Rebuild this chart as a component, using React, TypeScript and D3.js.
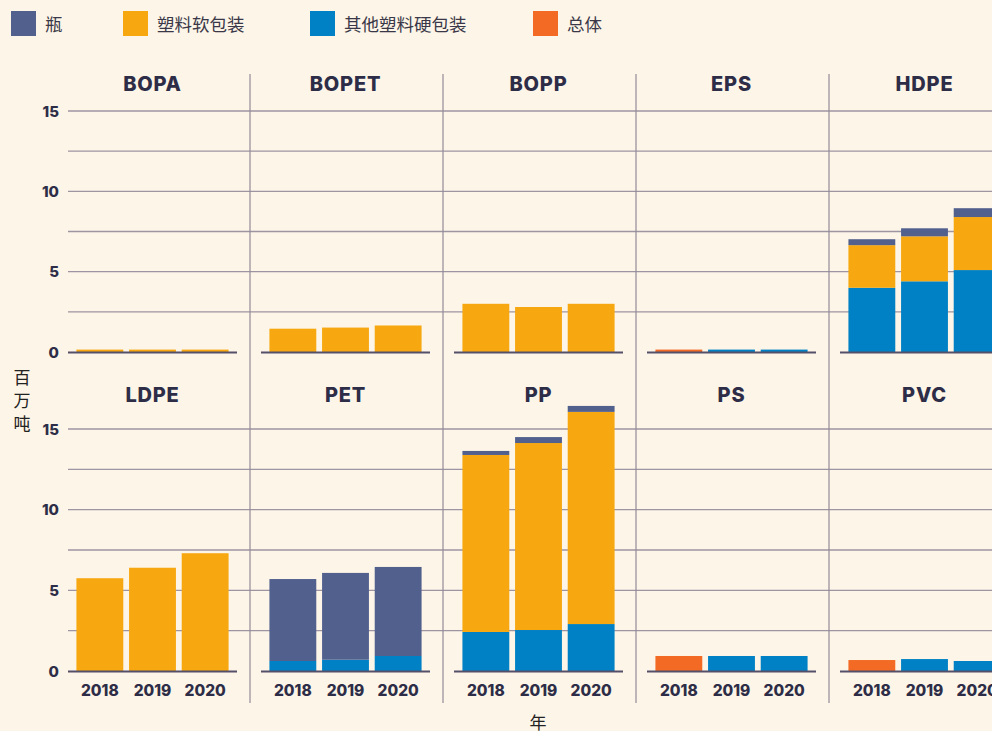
import React from "react";
import * as d3 from "d3";

const materials = ["BOPA", "BOPET", "BOPP", "EPS", "HDPE", "LDPE", "PET", "PP", "PS", "PVC"];
const years = ["2018", "2019", "2020"];
const seriesKeys = ["rigid", "flexible", "bottle", "total"];
const seriesNames: Record<string, string> = { bottle: "瓶", flexible: "塑料软包装", rigid: "其他塑料硬包装", total: "总体" };
const legendOrder = ["bottle", "flexible", "rigid", "total"];
const colors: Record<string, string> = { bottle: "#52608e", flexible: "#f7a70f", rigid: "#0081c6", total: "#f26a23" };

// values in million tonnes, per material, per year
const rigid = [[0, 0, 0], [0, 0, 0], [0, 0, 0], [0, 0.15, 0.15], [4.0, 4.4, 5.1], [0, 0, 0], [0.62, 0.7, 0.93], [2.42, 2.54, 2.91], [0, 0.93, 0.93], [0, 0.74, 0.62]];
const flexible = [[0.15, 0.15, 0.15], [1.45, 1.52, 1.65], [3.0, 2.8, 3.0], [0, 0, 0], [2.65, 2.8, 3.3], [5.75, 6.4, 7.3], [0, 0, 0], [10.97, 11.59, 13.15], [0, 0, 0], [0, 0, 0]];
const bottle = [[0, 0, 0], [0, 0, 0], [0, 0, 0], [0, 0, 0], [0.37, 0.5, 0.55], [0, 0, 0], [5.08, 5.38, 5.52], [0.25, 0.37, 0.37], [0, 0, 0], [0, 0, 0]];
const total = [[0, 0, 0], [0, 0, 0], [0, 0, 0], [0.15, 0, 0], [0, 0, 0], [0, 0, 0], [0, 0, 0], [0, 0, 0], [0.93, 0, 0], [0.68, 0, 0]];
const yTicks = [0, 5, 10, 15];
const yGrid = [2.5, 5, 7.5, 10, 12.5, 15];

const W = 992, H = 731;
const BG = "#fdf5e7";
const TEXT = "#2e2d48";
const NUM_FONT = "Inter, 'DejaVu Sans', sans-serif";
const CJK_FONT = "'Noto Sans CJK SC', sans-serif";

export default function App() {
  const cols = 5;
  const panelX0 = 68, panelStep = 193, panelW = 169;
  const rows = [{ top: 111, bottom: 352, title: 84 }, { top: 429, bottom: 671, title: 395 }];

  const seriesData: Record<string, number[][]> = { rigid, flexible, bottle, total };

  return (
    <svg width={W} height={H} style={{ position: "absolute", left: 0, top: 0, display: "block" }}>
      <rect x={0} y={0} width={W} height={H} fill={BG} />
      {/* legend */}
      {legendOrder.map((k, i) => {
        const lx = [11, 123, 310, 533][i];
        return (
          <g key={k}>
            <rect x={lx} y={11} width={25} height={25} fill={colors[k]} />
            <text x={lx + 34} y={23.5} dominantBaseline="central" fontFamily={CJK_FONT} fontSize={17.5} fill="#3a3848">{seriesNames[k]}</text>
          </g>
        );
      })}
      {/* gridlines */}
      {rows.map((r, ri) => {
        const y = d3.scaleLinear().domain([0, 15]).range([r.bottom, r.top]);
        return (
          <g key={"g" + ri}>
            {yGrid.map((t) => (
              <line key={t} x1={panelX0} x2={W} y1={y(t)} y2={y(t)} stroke="#9d95a2" strokeWidth={1.3} />
            ))}
            {yTicks.map((t) => (
              <text key={t} x={59} y={y(t)} textAnchor="end" dominantBaseline="central" fontFamily={NUM_FONT} fontWeight={800} fontSize={15} fill={TEXT}>{t}</text>
            ))}
          </g>
        );
      })}
      {/* separators */}
      {d3.range(cols - 1).map((c) => (
        <line key={"s" + c} x1={panelX0 + c * panelStep + 182} x2={panelX0 + c * panelStep + 182} y1={74} y2={703} stroke="#938a98" strokeWidth={1.2} />
      ))}
      {/* panels */}
      {materials.map((m, mi) => {
        const r = rows[Math.floor(mi / cols)];
        const c = mi % cols;
        const x0 = panelX0 + c * panelStep;
        const x = d3.scaleBand<string>().domain(years).range([x0, x0 + panelW]).paddingInner(0.11).paddingOuter(0.16);
        const y = d3.scaleLinear().domain([0, 15]).range([r.bottom, r.top]);
        const rowsData = years.map((yr, yi) => {
          const o: any = { year: yr };
          seriesKeys.forEach((k) => (o[k] = seriesData[k][mi][yi]));
          return o;
        });
        const stacked = d3.stack<any>().keys(seriesKeys)(rowsData);
        return (
          <g key={m}>
            <text x={x0 + panelW / 2} y={r.title} textAnchor="middle" dominantBaseline="central" fontFamily={NUM_FONT} fontWeight={800} fontSize={20} letterSpacing={0.8} fill={TEXT}>{m}</text>
            {stacked.map((s) => (
              <g key={s.key} fill={colors[s.key]}>
                {s.map((d, i) => (d[1] - d[0] > 0 ? (
                  <rect key={i} x={x(years[i])} width={x.bandwidth()} y={y(d[1])} height={y(d[0]) - y(d[1])} />
                ) : null))}
              </g>
            ))}
            <line x1={x0} x2={x0 + panelW} y1={r.bottom + 0.5} y2={r.bottom + 0.5} stroke="#55506a" strokeWidth={2} />
            {mi >= cols && years.map((yr) => (
              <text key={yr} x={(x(yr) as number) + x.bandwidth() / 2} y={690} textAnchor="middle" dominantBaseline="central" fontFamily={NUM_FONT} fontWeight={800} fontSize={15.5} fill={TEXT}>{yr}</text>
            ))}
          </g>
        );
      })}
      {/* axis titles */}
      {["百", "万", "吨"].map((ch, i) => (
        <text key={ch} x={22} y={376 + i * 23} textAnchor="middle" dominantBaseline="central" fontFamily={CJK_FONT} fontSize={17} fill="#222">{ch}</text>
      ))}
      <text x={538} y={721} textAnchor="middle" dominantBaseline="central" fontFamily={CJK_FONT} fontSize={17} fill="#222">年</text>
    </svg>
  );
}
